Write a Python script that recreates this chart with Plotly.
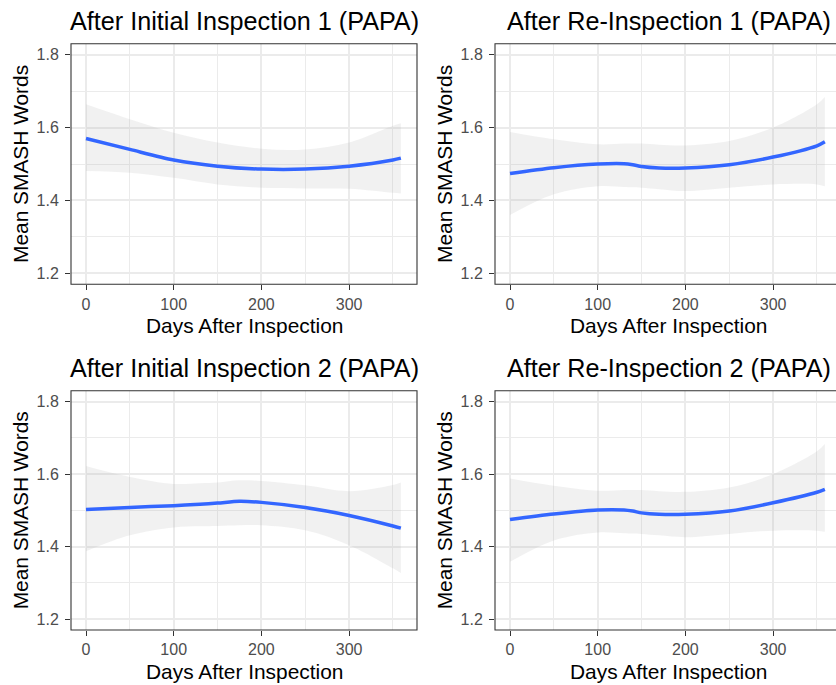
import plotly.graph_objects as go

# ---------------- data ----------------
titles = ["After Initial Inspection 1 (PAPA)", "After Re-Inspection 1 (PAPA)",
          "After Initial Inspection 2 (PAPA)", "After Re-Inspection 2 (PAPA)"]

x_init1 = [0, 50, 100, 150, 200, 250, 300, 350, 359]
fit_init1 = [1.570, 1.540, 1.511, 1.494, 1.486, 1.486, 1.494, 1.511, 1.516]
up_init1 = [1.664, 1.623, 1.586, 1.559, 1.542, 1.540, 1.559, 1.605, 1.612]
lo_init1 = [1.481, 1.476, 1.462, 1.444, 1.435, 1.433, 1.432, 1.421, 1.419]

x_re1 = [0, 50, 100, 130, 140, 150, 170, 200, 250, 300, 350, 359]
fit_re1 = [1.474, 1.490, 1.500, 1.501, 1.498, 1.493, 1.489, 1.489, 1.498, 1.519, 1.550, 1.561]
up_re1 = [1.588, 1.568, 1.554, 1.556, 1.556, 1.556, 1.553, 1.551, 1.563, 1.600, 1.664, 1.684]
lo_re1 = [1.360, 1.417, 1.439, 1.437, 1.436, 1.435, 1.431, 1.426, 1.435, 1.444, 1.444, 1.439]

x_init2 = [0, 50, 100, 130, 150, 175, 200, 250, 300, 350, 359]
fit_init2 = [1.502, 1.508, 1.513, 1.517, 1.520, 1.525, 1.522, 1.508, 1.486, 1.457, 1.451]
up_init2 = [1.622, 1.592, 1.573, 1.575, 1.577, 1.583, 1.581, 1.569, 1.553, 1.570, 1.577]
lo_init2 = [1.387, 1.431, 1.453, 1.456, 1.457, 1.459, 1.459, 1.445, 1.404, 1.340, 1.327]

x_re2 = [0, 50, 100, 130, 140, 150, 170, 200, 250, 300, 350, 359]
fit_re2 = [1.475, 1.490, 1.501, 1.501, 1.498, 1.493, 1.489, 1.489, 1.498, 1.521, 1.550, 1.558]
up_re2 = [1.588, 1.568, 1.554, 1.556, 1.556, 1.556, 1.553, 1.551, 1.563, 1.600, 1.663, 1.683]
lo_re2 = [1.358, 1.417, 1.439, 1.437, 1.436, 1.435, 1.431, 1.426, 1.435, 1.444, 1.444, 1.441]

x_ticks = [0, 100, 200, 300]
y_ticks = [1.2, 1.4, 1.6, 1.8]
x_label = "Days After Inspection"
y_label = "Mean SMASH Words"

# ---------------- layout geometry ----------------
W, H = 836, 685
FONT = "Liberation Sans, Arial, Helvetica, sans-serif"
panels = [
    (x_init1, fit_init1, up_init1, lo_init1),
    (x_re1, fit_re1, up_re1, lo_re1),
    (x_init2, fit_init2, up_init2, lo_init2),
    (x_re2, fit_re2, up_re2, lo_re2),
]
# pixel boxes: (left, right, top, bottom)
boxes = [(71, 417, 43.7, 284.3), (495, 836, 43.7, 284.3),
         (71, 417, 390.7, 630), (495, 836, 390.7, 630)]
xranges = [[-17.1, 377.4], [-17.1, 371.7], [-17.1, 377.4], [-17.1, 371.7]]
yrange = [1.17, 1.83]

fig = go.Figure()
layout = dict(width=W, height=H, margin=dict(l=0, r=0, t=0, b=0),
              plot_bgcolor="white", paper_bgcolor="white", showlegend=False,
              font=dict(family=FONT))
annotations = []
shapes = []

for i, ((xs, fit, up, lo), (l, r, t, b)) in enumerate(zip(panels, boxes)):
    n = i + 1
    xa = "x" if n == 1 else f"x{n}"
    ya = "y" if n == 1 else f"y{n}"
    fig.add_trace(go.Scatter(x=xs, y=up, mode="lines", line=dict(width=0, shape="spline"),
                             xaxis=xa, yaxis=ya, hoverinfo="skip"))
    fig.add_trace(go.Scatter(x=xs, y=lo, mode="lines", line=dict(width=0, shape="spline"),
                             fill="tonexty", fillcolor="rgba(175,175,175,0.18)",
                             xaxis=xa, yaxis=ya, hoverinfo="skip"))
    fig.add_trace(go.Scatter(x=xs, y=fit, mode="lines",
                             line=dict(color="#3366FF", width=3.5, shape="spline", smoothing=0.8),
                             xaxis=xa, yaxis=ya))
    xkey = "xaxis" if n == 1 else f"xaxis{n}"
    ykey = "yaxis" if n == 1 else f"yaxis{n}"
    layout[xkey] = dict(domain=[l / W, r / W], range=xranges[i], anchor=ya,
                        tickvals=x_ticks, ticks="outside", ticklen=5, tickcolor="#333333",
                        tickwidth=1, tickfont=dict(size=16, color="#4d4d4d"),
                        showgrid=True, gridcolor="#ebebeb", gridwidth=1.6,
                        minor=dict(dtick=50, tick0=50, showgrid=True, gridcolor="#ebebeb",
                                   gridwidth=1, ticks=""),
                        zeroline=False, showline=False, fixedrange=True)
    layout[ykey] = dict(domain=[(H - b) / H, (H - t) / H], range=yrange, anchor=xa,
                        tickvals=y_ticks, ticktext=[f"{v:.1f}" for v in y_ticks],
                        ticks="outside", ticklen=5, tickcolor="#333333", tickwidth=1,
                        tickfont=dict(size=16, color="#4d4d4d"), ticklabelstandoff=3,
                        showgrid=True, gridcolor="#ebebeb", gridwidth=1.6,
                        minor=dict(tickvals=[1.3, 1.5, 1.7], showgrid=True,
                                   gridcolor="#ebebeb", gridwidth=1, ticks=""),
                        zeroline=False, showline=False, fixedrange=True)
    # panel border
    x1 = r / W if r < W else 1.02
    shapes.append(dict(type="rect", xref="paper", yref="paper",
                       x0=l / W, x1=x1, y0=(H - b) / H, y1=(H - t) / H,
                       line=dict(color="#333333", width=1.1), fillcolor="rgba(0,0,0,0)",
                       layer="above"))
    # title
    cx_full = (l + (r if r < W else 842)) / 2
    annotations.append(dict(text=titles[i], xref="paper", yref="paper",
                            x=cx_full / W, y=(H - (t - 23)) / H, xanchor="center",
                            yanchor="middle", showarrow=False,
                            font=dict(size=25.2, color="black", family=FONT)))
    # x axis title
    annotations.append(dict(text=x_label, xref="paper", yref="paper",
                            x=cx_full / W, y=(H - (b + 41)) / H, xanchor="center",
                            yanchor="middle", showarrow=False,
                            font=dict(size=20.9, color="black", family=FONT)))
    # y axis title
    annotations.append(dict(text=y_label, xref="paper", yref="paper",
                            x=(l - 51) / W, y=(H - (t + b) / 2) / H, xanchor="center",
                            yanchor="middle", showarrow=False, textangle=-90,
                            font=dict(size=20.9, color="black", family=FONT)))

layout["annotations"] = annotations
layout["shapes"] = shapes
fig.update_layout(**layout)
fig.write_html("out.html", config={"displayModeBar": False},
               post_script="document.body.style.margin='0';document.body.style.overflow='hidden';")
